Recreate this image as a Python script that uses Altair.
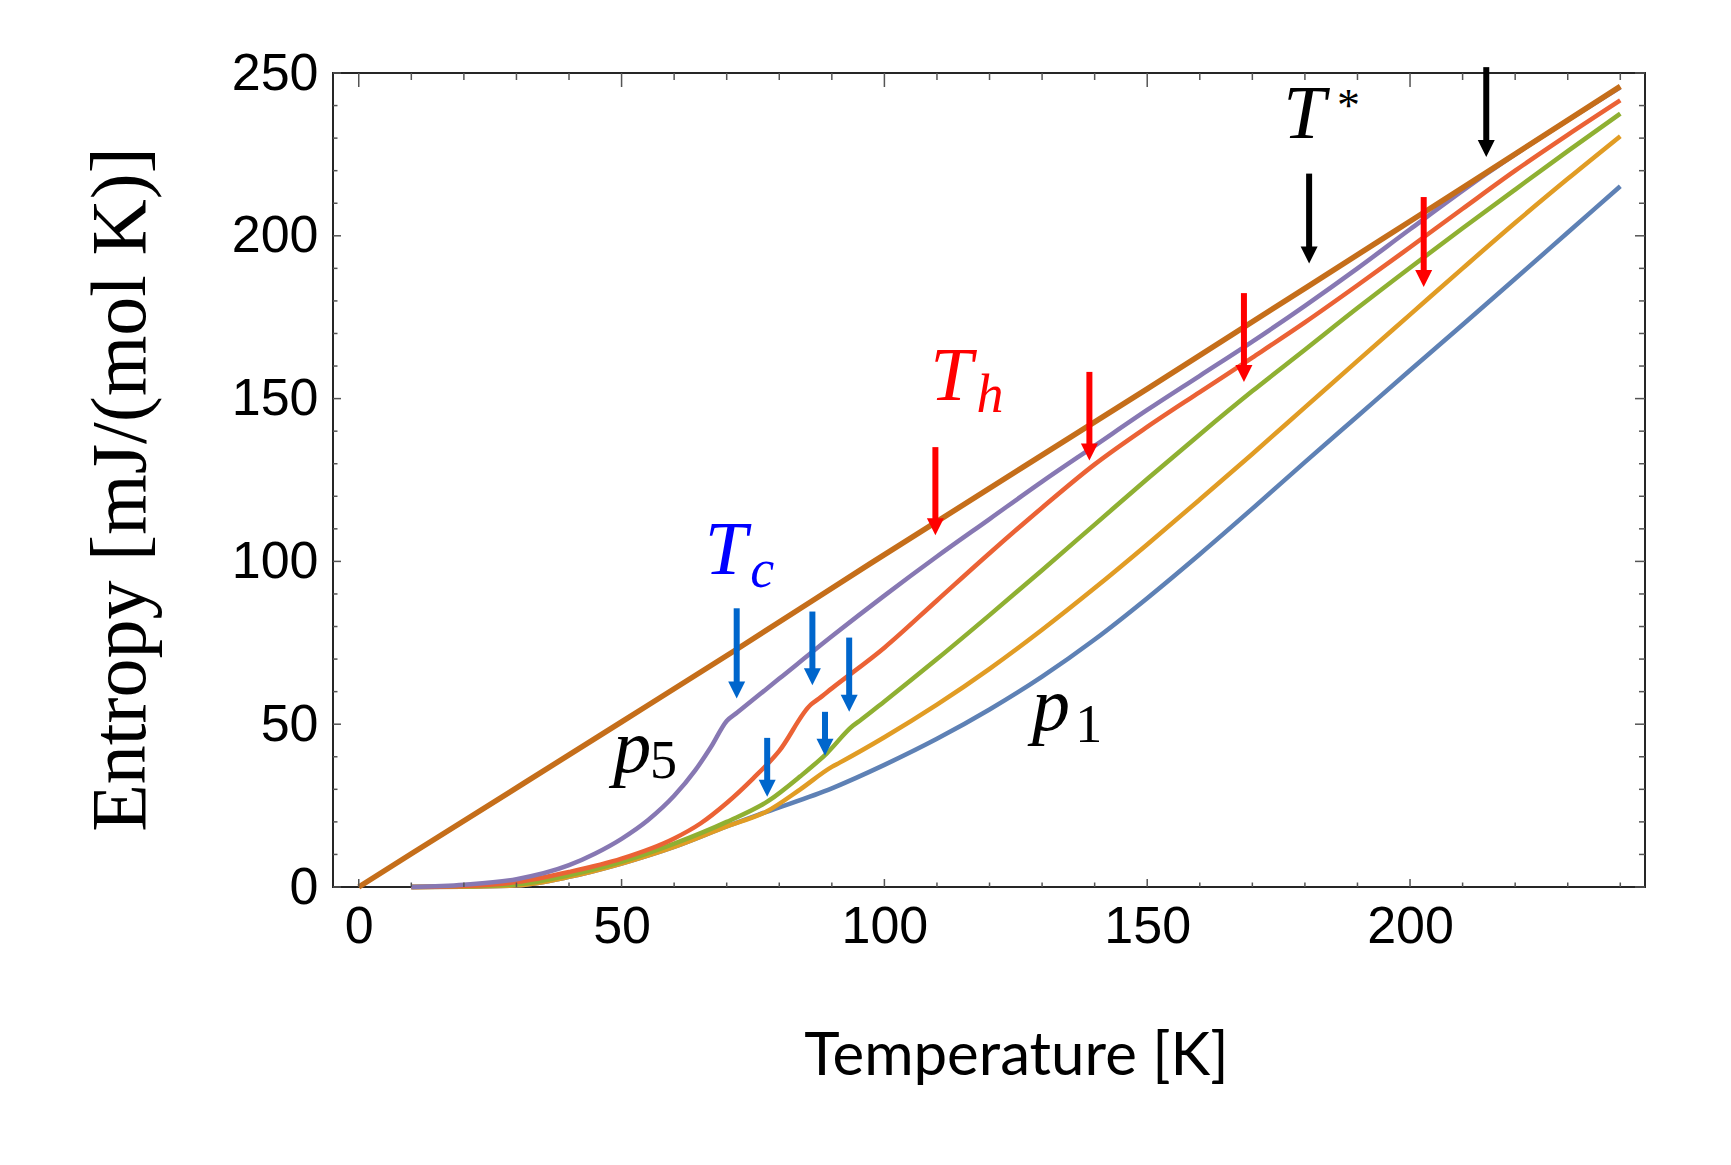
import altair as alt
import pandas as pd

# ---------------- data ----------------
series_names = ["p1", "p2", "p3", "p4", "p5", "p6"]
series_colors = ["#5E81B5", "#E19C24", "#8FB032", "#EB6235", "#8778B3", "#C56E1A"]
series_widths = [4.5, 4.5, 4.5, 4.5, 4.5, 5.5]

p1_T = [10, 20, 30, 40, 50, 60, 70, 77.6, 90, 100, 110, 120, 130, 140, 150, 160, 170, 180, 190, 200, 210, 220, 230, 240]
p1_S = [0, 0.1, 0.5, 3.1, 7.2, 12.3, 18.6, 23.1, 30.3, 37.5, 45.5, 54.5, 64.6, 76, 88.7, 102.2, 116.2, 130.5, 144.6, 158.7, 172.7, 186.8, 201, 215.2]

p2_T = [10, 20, 30, 40, 50, 60, 70, 77.6, 84, 90, 91.5, 100, 110, 120, 130, 140, 150, 160, 170, 180, 190, 200, 210, 220, 230, 240]
p2_S = [0, 0.1, 0.5, 3.1, 7.2, 12.3, 18.6, 23.2, 30, 36.9, 38.2, 46, 56, 67, 79, 91.8, 105.2, 119, 133, 147.3, 161.6, 175.8, 190, 204, 217.5, 230.6]

p3_T = [10, 20, 30, 40, 50, 60, 70, 78, 84, 89, 94, 95.5, 100, 110, 120, 130, 140, 150, 160, 170, 180, 190, 200, 210, 220, 230, 240]
p3_S = [0, 0.2, 0.8, 3.6, 7.7, 13.3, 20, 26.5, 34, 41, 49.5, 51.3, 57, 70, 83.5, 97.3, 111.3, 125.3, 139, 152.3, 165, 177.8, 190.2, 202.3, 214.2, 226, 237.5]

p4_T = [10, 20, 30, 40, 50, 60, 65, 70, 75, 80, 86, 87.5, 90, 100, 110, 120, 130, 140, 150, 160, 170, 180, 190, 200, 210, 220, 230, 240]
p4_S = [0, 0.3, 1.5, 4.6, 8.7, 14.9, 19.5, 25.8, 33.3, 41.8, 56, 57.8, 61, 73.5, 88, 102.5, 116.5, 129.8, 141.3, 152, 162.6, 173.4, 184.8, 196.5, 208.3, 220, 231, 241.6]

p5_T = [10, 20, 30, 40, 45, 50, 55, 60, 64, 67, 70, 72, 80, 90, 100, 110, 120, 130, 140, 150, 160, 170, 180, 190, 200, 214.5, 240]
p5_S = [0, 0.7, 2.4, 6.7, 10.3, 14.8, 20.5, 28, 35.8, 43, 51, 53.6, 64, 77, 89.5, 101.5, 113, 124.5, 135.5, 146.5, 157, 167.5, 178.5, 190, 202, 219, 245.6]

p6_T = [0, 10, 50, 71.7, 97.3, 150, 194.3, 214.5, 240]
p6_S = [0, 10.2, 50.7, 72.8, 99.3, 153.0, 198.6, 219.4, 245.9]

# arrows: temperature, top of shaft, tip
tc_T = [71.9, 86.3, 93.3, 88.7, 77.7]
tc_top = [85.6, 84.6, 76.6, 53.8, 45.8]
tc_tip = [57.9, 62.0, 53.8, 40.3, 27.7]

th_T = [109.7, 139.0, 168.4, 202.6]
th_top = [135.1, 158.2, 182.4, 211.9]
th_tip = [108.0, 131.0, 155.1, 184.3]

ts_T = [180.8, 214.5]
ts_top = [219.1, 251.8]
ts_tip = [191.5, 224.2]

# labels (italic math letters and upright sub/superscripts)
it_text = ["T", "c", "T", "h", "T", "p", "p"]
it_T = [65.8, 74.5, 108.7, 117.5, 175.9, 48.4, 128.1]
it_S = [96.0, 92.1, 149.5, 145.8, 229.9, 35.4, 48.1]
it_size = [76, 54, 76, 54, 76, 76, 76]
it_color = ["#0000FF", "#0000FF", "#FF0000", "#FF0000", "#000000", "#000000", "#000000"]

up_text = ["*", "5", "1"]
up_T = [186.1, 55.4, 136.3]
up_S = [235.2, 33.4, 44.5]
up_size = [46, 54, 54]

x_tick_values = list(range(0, 250, 10))
y_tick_values = list(range(0, 260, 10))
x_label_values = [0, 50, 100, 150, 200]
y_label_values = [0, 50, 100, 150, 200, 250]

# ---------------- layout ----------------
W, H = 1312, 814
X_DOM = [-4.9, 244.7]
Y_DOM = [0, 250]
PX_PER_S = H / (Y_DOM[1] - Y_DOM[0])
HEAD_PX = 17
SERIF = "'Liberation Serif', 'Times New Roman', Times, serif"

xs = alt.Scale(domain=X_DOM, nice=False, zero=False)
ys = alt.Scale(domain=Y_DOM, nice=False, zero=False)

rows = []
for name, sw, Ts, Ss in zip(series_names, series_widths,
                            [p1_T, p2_T, p3_T, p4_T, p5_T, p6_T],
                            [p1_S, p2_S, p3_S, p4_S, p5_S, p6_S]):
    for t, s in zip(Ts, Ss):
        rows.append({"series": name, "T": t, "S": s, "sw": sw})
curves = pd.DataFrame(rows)

arrows = []
for col, Ts, tops, tips in [("#0066CC", tc_T, tc_top, tc_tip),
                            ("#FF0000", th_T, th_top, th_tip),
                            ("#000000", ts_T, ts_top, ts_tip)]:
    for t, a, b in zip(Ts, tops, tips):
        arrows.append({"T": t, "top": a, "tip": b,
                       "shaft_end": b + (HEAD_PX - 2) / PX_PER_S, "col": col})
arrows = pd.DataFrame(arrows)

it_df = pd.DataFrame({"text": it_text, "T": it_T, "S": it_S, "fs": it_size, "col": it_color})
up_df = pd.DataFrame({"text": up_text, "T": up_T, "S": up_S, "fs": up_size})

xt = pd.DataFrame({"T": x_tick_values, "major": [v % 50 == 0 for v in x_tick_values]})
yt = pd.DataFrame({"S": y_tick_values, "major": [v % 50 == 0 for v in y_tick_values]})

x_axis = alt.Axis(values=x_label_values, labelFont="Liberation Sans", labelFontSize=52,
                  labelColor="#000000", labelPadding=14, ticks=False, tickSize=0,
                  domain=False, grid=False, labelFlush=False, labelOverlap=False,
                  title="Temperature [K]", titleFont="Lato", titleFontSize=60,
                  titleFontWeight="normal", titleColor="#000000",
                  titleX=683, titleY=187, titleAlign="center", titleBaseline="alphabetic")
y_axis = alt.Axis(values=y_label_values, labelFont="Liberation Sans", labelFontSize=52,
                  labelColor="#000000", labelPadding=15, ticks=False, tickSize=0,
                  domain=False, grid=False, labelFlush=False, labelOverlap=False,
                  title="Entropy [mJ/(mol K)]", titleFont=SERIF, titleFontSize=78,
                  titleFontWeight="normal", titleColor="#000000", titleAngle=270,
                  titleX=-189, titleY=416, titleAlign="center", titleBaseline="alphabetic")

X = lambda f: alt.X(f, type="quantitative", scale=xs, axis=x_axis)
Y = lambda f: alt.Y(f, type="quantitative", scale=ys, axis=y_axis)

lines = alt.Chart(curves).mark_line(interpolate="monotone").encode(
    x=X("T"), y=Y("S"),
    color=alt.Color("series:N", scale=alt.Scale(domain=series_names, range=series_colors), legend=None),
    strokeWidth=alt.StrokeWidth("sw:Q", scale=None),
)

TICK_COLOR = "#555555"
def xticks(major, y0, y1):
    return alt.Chart(xt).transform_filter(
        alt.datum.major if major else ~alt.datum.major
    ).mark_rule(color=TICK_COLOR, strokeWidth=1.5).encode(
        x=X("T"), y=alt.value(y0), y2=alt.value(y1))

def yticks(major, x0, x1):
    return alt.Chart(yt).transform_filter(
        alt.datum.major if major else ~alt.datum.major
    ).mark_rule(color=TICK_COLOR, strokeWidth=1.5).encode(
        y=Y("S"), x=alt.value(x0), x2=alt.value(x1))

ticks = [
    xticks(True, H, H - 8), xticks(False, H, H - 4.5),
    xticks(True, 0, 14), xticks(False, 0, 7),
    yticks(True, 0, 8), yticks(False, 0, 4.5),
    yticks(True, W, W - 10), yticks(False, W, W - 6),
]

shafts = alt.Chart(arrows).mark_rule(strokeWidth=6).encode(
    x=X("T"), y=Y("top"), y2="shaft_end:Q",
    color=alt.Color("col:N", scale=None),
)
heads = alt.Chart(arrows).mark_point(shape="M-1,-2L1,-2L0,0Z", filled=True, opacity=1,
                                     size=HEAD_PX * HEAD_PX, strokeWidth=0).encode(
    x=X("T"), y=Y("tip"),
    color=alt.Color("col:N", scale=None),
)

it_text_layer = alt.Chart(it_df).mark_text(font=SERIF, fontStyle="italic",
                                           align="left", baseline="alphabetic").encode(
    x=X("T"), y=Y("S"),
    text="text:N",
    size=alt.Size("fs:Q", scale=None),
    color=alt.Color("col:N", scale=None),
)
up_text_layer = alt.Chart(up_df).mark_text(font=SERIF, align="left",
                                           baseline="alphabetic", color="#000000").encode(
    x=X("T"), y=Y("S"),
    text="text:N",
    size=alt.Size("fs:Q", scale=None),
)

chart = alt.layer(lines, *ticks, shafts, heads, it_text_layer, up_text_layer).properties(
    width=W, height=H,
    padding={"left": 325, "top": 65, "right": 70, "bottom": 255},
    autosize=alt.AutoSizeParams(type="none"),
    background="white",
).configure_view(stroke="#262626", strokeWidth=2)

chart.save("out.html", embed_options={"renderer": "svg", "actions": False})
